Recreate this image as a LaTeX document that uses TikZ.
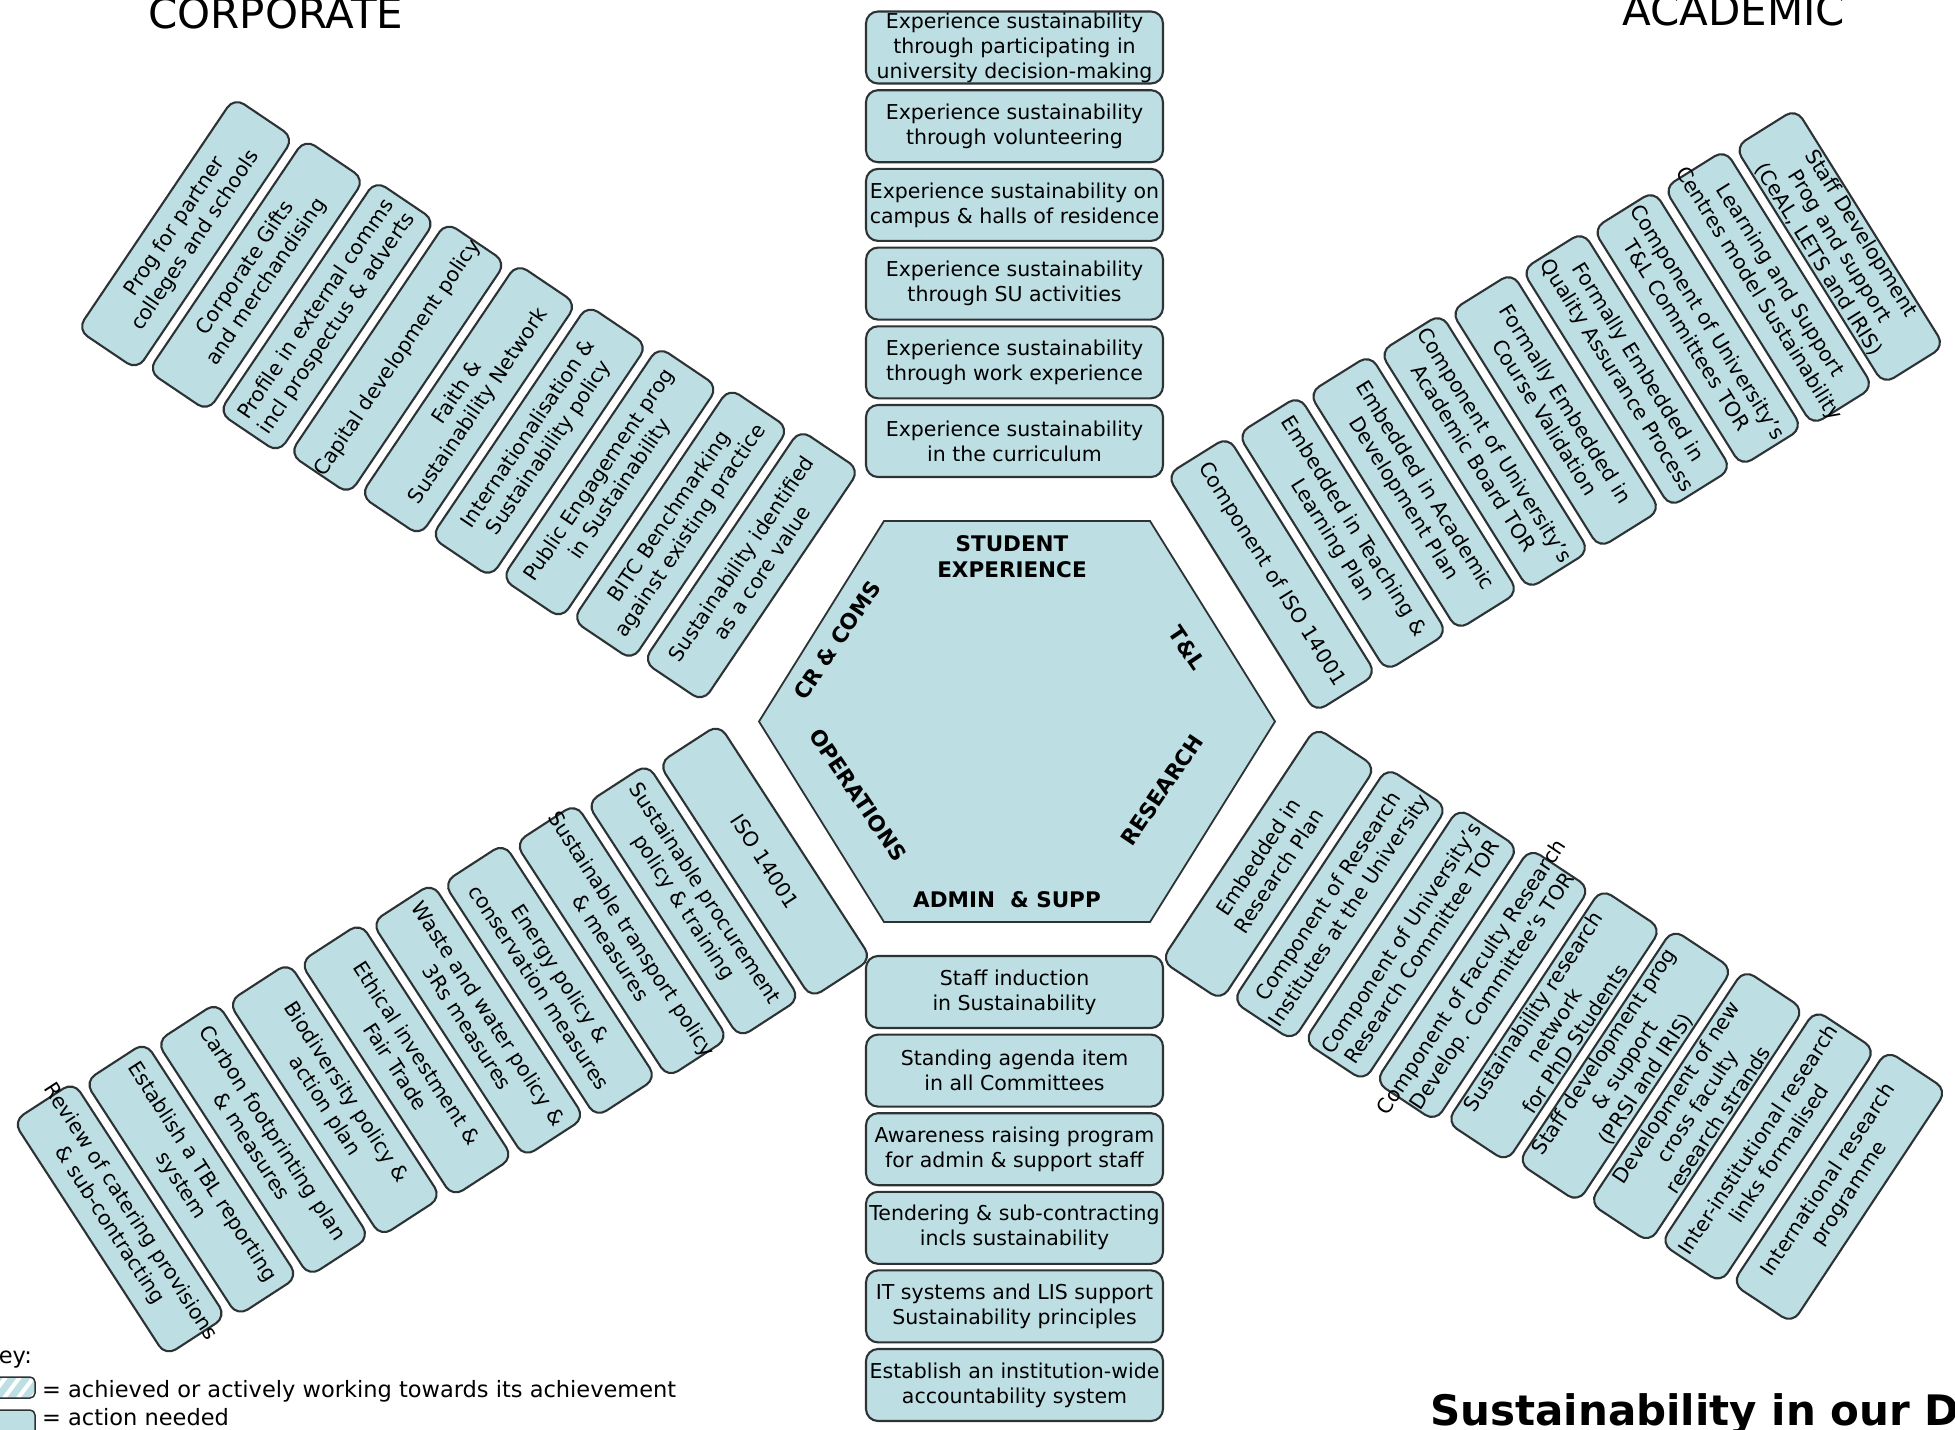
\documentclass[tikz,border=0pt]{standalone}
\usepackage{fontspec}
\setmainfont{DejaVu Sans}
\usetikzlibrary{calc}

\definecolor{tilefill}{RGB}{189,223,228}
\definecolor{tileline}{RGB}{45,50,52}

\pgfdeclarelayer{tiles}
\pgfsetlayers{tiles,main}

\tikzset{
  tile/.style={draw=tileline, fill=tilefill, line width=2.1pt, rounded corners=12pt,
               minimum height=72pt, inner sep=0pt},
  tiletext/.style={align=center, inner sep=0pt, text=black,
                   font=\fontsize{20.5}{25}\selectfont},
  hexagon/.style={draw=tileline, fill=tilefill, line width=1.8pt, line join=miter},
  hexlabel/.style={align=center, inner sep=0pt, font=\fontsize{21.5}{26}\selectfont\bfseries},
  heading/.style={anchor=base west, inner sep=0pt, font=\fontsize{42}{42}\selectfont},
  keytext/.style={anchor=base west, inner sep=0pt, font=\fontsize{22.5}{22.5}\selectfont},
}

% #1 origin, #2 name, #3 direction, #4 distance, #5 rotation, #6 length, #7 text
\newcommand{\armitem}[7]{%
  \coordinate (#2) at ($(#1)+({(#4)*cos(#3)},{-(#4)*sin(#3)})$);
  \begin{pgfonlayer}{tiles}
    \node[tile, rotate=#5, minimum width=#6] (#2-box) at (#2) {};
  \end{pgfonlayer}
  \node[tiletext, rotate=#5] (#2-txt) at (#2) {#7};
}

\begin{document}
\begin{tikzpicture}[x=1pt, y=-1pt]
\useasboundingbox (0,0) rectangle (1955,1430);
\clip (0,0) rectangle (1955,1430);

\coordinate (hc) at (1017,721.5);
\coordinate (sc) at (1014.5,721.5);

% central hexagon
\draw[hexagon] ($(hc)+(-258,0)$) coordinate (hx1)
  -- ($(hc)+(-133,-200.5)$) coordinate (hx2)
  -- ($(hc)+(133,-200.5)$) coordinate (hx3)
  -- ($(hc)+(258,0)$) coordinate (hx4)
  -- ($(hc)+(133,200.5)$) coordinate (hx5)
  -- ($(hc)+(-133,200.5)$) coordinate (hx6)
  -- cycle;

\node[hexlabel] (student) at (1012,557) {STUDENT\\EXPERIENCE};
\node[hexlabel] (admin) at (1007,900) {ADMIN\ \ \& SUPP};
\node[hexlabel, rotate=56] (crcoms) at (837,640) {CR \& COMS};
\node[hexlabel, rotate=-56] (operations) at (858,795) {OPERATIONS};
\node[hexlabel, rotate=-56] (tl) at (1187,648) {T\&L};
\node[hexlabel, rotate=56] (research) at (1162,790) {RESEARCH};

% student experience (upwards)
\foreach \lbl [count=\idx from 0] in {
  {Experience sustainability\\in the curriculum},
  {Experience sustainability\\through work experience},
  {Experience sustainability\\through SU activities},
  {Experience sustainability on\\campus \& halls of residence},
  {Experience sustainability\\through volunteering},
  {Experience sustainability\\through participating in\\university decision-making}}
  {\armitem{sc}{se\idx}{90}{280.5+\idx*78.7}{0}{297}{\lbl}}

% admin & support (downwards)
\foreach \lbl [count=\idx from 0] in {
  {Staff induction\\in Sustainability},
  {Standing agenda item\\in all Committees},
  {Awareness raising program\\for admin \& support staff},
  {Tendering \& sub-contracting\\incls sustainability},
  {IT systems and LIS support\\Sustainability principles},
  {Establish an institution-wide\\accountability system}}
  {\armitem{sc}{as\idx}{-90}{270.5+\idx*78.6}{0}{297}{\lbl}}

% corporate (upper left)
\foreach \lbl [count=\idx from 0] in {
  {Sustainability identified\\as a core value},
  {BITC Benchmarking\\against existing practice},
  {Public Engagement prog\\in Sustainability},
  {Internationalisation \&\\Sustainability policy},
  {Faith \&\\Sustainability Network},
  {Capital development policy},
  {Profile in external comms\\incl prospectus \& adverts},
  {Corporate Gifts\\and merchandising},
  {Prog for partner\\colleges and schools}}
  {\armitem{hc}{cr\idx}{149.6}{308+\idx*82}{56}{280}{\lbl}}

% academic (upper right)
\foreach \lbl [count=\idx from 0] in {
  {Component of ISO 14001},
  {Embedded in Teaching \&\\Learning Plan},
  {Embedded in Academic\\Development Plan},
  {Component of University's\\Academic Board TOR},
  {Formally Embedded in\\Course Validation},
  {Formally Embedded in\\Quality Assurance Process},
  {Component of University's\\T\&L Committees TOR},
  {Learning and Support\\Centres model Sustainability},
  {Staff Development\\Prog and support\\(CeAL, LETS and IRIS)}}
  {\armitem{hc}{ac\idx}{30}{294+\idx*82}{-58}{280}{\lbl}}

% operations (lower left)
\foreach \lbl [count=\idx from 0] in {
  {ISO 14001},
  {Sustainable procurement\\policy \& training},
  {Sustainable transport policy\\\& measures},
  {Energy policy \&\\conservation measures},
  {Waste and water policy \&\\3Rs measures},
  {Ethical investment \&\\Fair Trade},
  {Biodiversity policy \&\\action plan},
  {Carbon footprinting plan\\\& measures},
  {Establish a TBL reporting\\system},
  {Review of catering provisions\\\& sub-contracting}}
  {\armitem{hc}{op\idx}{209}{288+\idx*82}{-57}{280}{\lbl}}

% research (lower right)
\foreach \lbl [count=\idx from 0] in {
  {Embedded in\\Research Plan},
  {Component of Research\\Institutes at the University},
  {Component of University's\\Research Committee TOR},
  {Component of Faculty Research\\Develop. Committee's TOR},
  {Sustainability research\\network\\for PhD Students},
  {Staff development prog\\\& support\\(PRSI and IRIS)},
  {Development of new\\cross faculty\\research strands},
  {Inter-institutional research\\links formalised},
  {International research\\programme}}
  {\armitem{hc}{rs\idx}{-29.5}{289+\idx*82}{56.5}{280}{\lbl}}

% headings
\node[heading] (corporate) at (148,28) {CORPORATE};
\node[heading] (academic) at (1622,25) {ACADEMIC};
\node[heading, font=\fontsize{42}{42}\selectfont\bfseries] (maintitle) at (1430,1425) {Sustainability in our D};

% key
\node[keytext] (key) at (-15,1363) {Key:};
\begin{scope}
  \clip[rounded corners=5pt] (-10,1377) rectangle (35,1398);
  \fill[tilefill] (-10,1377) rectangle (35,1398);
  \foreach \s in {-24,-10,...,40}
    \draw[white, line width=4pt] (\s,1398) -- ({\s+16},1377);
\end{scope}
\draw[tileline, line width=1.5pt, rounded corners=5pt] (-10,1377) rectangle (35,1398) node[coordinate] (keyicon1) {};
\draw[tileline, fill=tilefill, line width=1.5pt, rounded corners=5pt] (-10,1410) rectangle (35,1440) node[coordinate] (keyicon2) {};
\node[keytext] (key1) at (42,1397) {= achieved or actively working towards its achievement};
\node[keytext] (key2) at (42,1425) {= action needed};
\end{tikzpicture}
\end{document}
